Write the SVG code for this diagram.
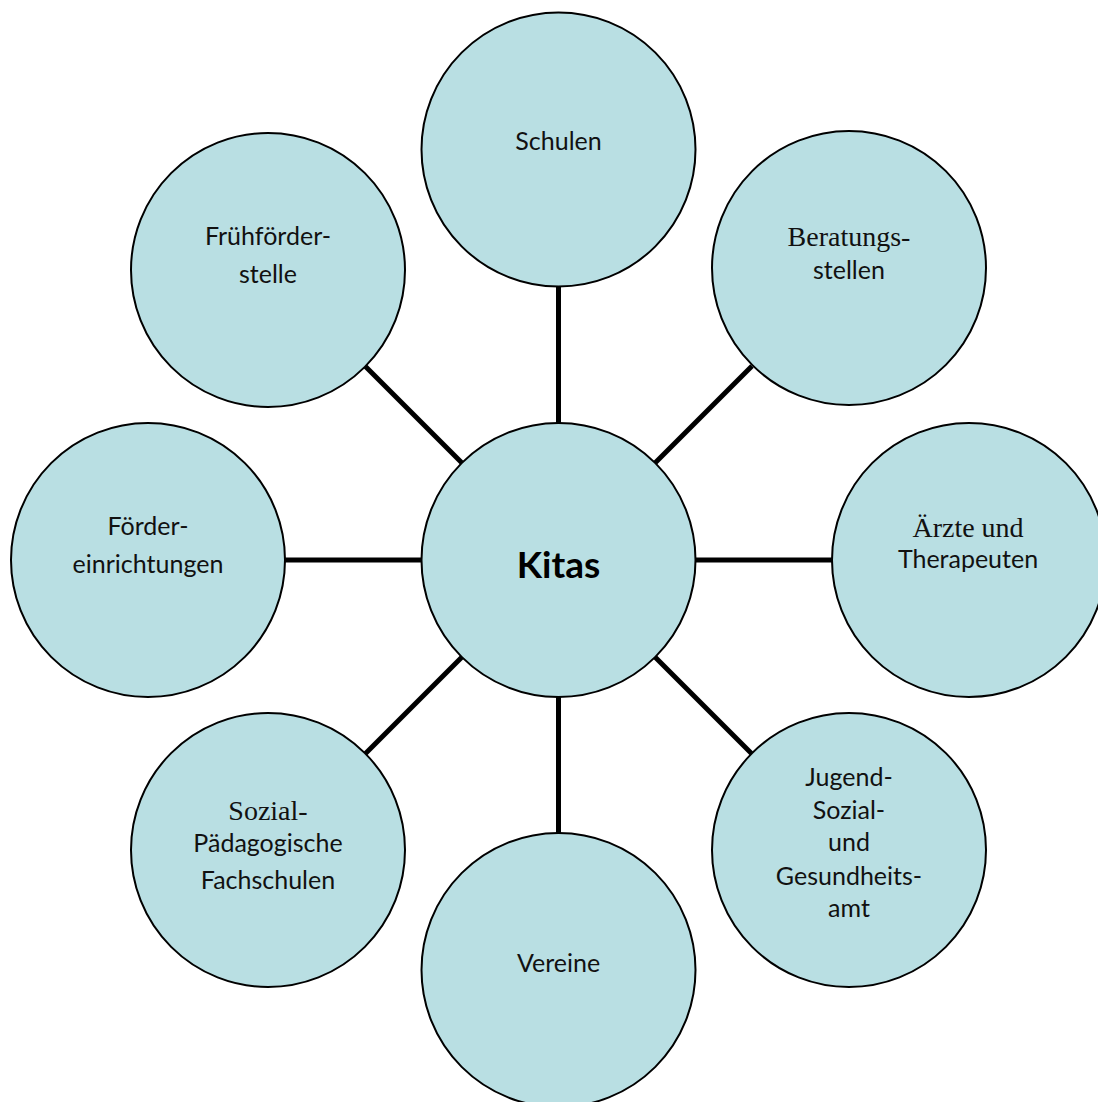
<svg xmlns="http://www.w3.org/2000/svg" width="1098" height="1102" viewBox="0 0 1098 1102">
<style>
.n{fill:#B9DFE3;stroke:#000;stroke-width:2}
.c{stroke:#000;stroke-width:5;fill:none}
.t{font-family:Lato,"Liberation Sans",sans-serif;font-size:25px;fill:#111;text-anchor:middle}
.s{font-family:"Liberation Serif",serif;font-size:28px;fill:#111;text-anchor:middle}
.b{font-family:Lato,"Liberation Sans",sans-serif;font-size:37px;font-weight:bold;fill:#000;text-anchor:middle}
</style>
<rect width="1098" height="1102" fill="#fff"/>
<g id="connectors">
<line class="c" x1="558.5" y1="286" x2="558.5" y2="424"/>
<line class="c" x1="558.5" y1="697" x2="558.5" y2="834"/>
<line class="c" x1="285" y1="560" x2="422" y2="560"/>
<line class="c" x1="695" y1="560" x2="833" y2="560"/>
<line class="c" x1="655" y1="463" x2="752" y2="366"/>
<line class="c" x1="462" y1="463" x2="365" y2="366"/>
<line class="c" x1="655" y1="657" x2="752" y2="754"/>
<line class="c" x1="462" y1="657" x2="365" y2="754"/>
</g>
<g id="kitas">
<circle class="n" cx="558.5" cy="560" r="137"/>
<text class="b" x="558.5" y="578">Kitas</text>
</g>
<g id="schulen">
<circle class="n" cx="558.5" cy="149.5" r="137"/>
<text class="t" x="558.5" y="150">Schulen</text>
</g>
<g id="beratungsstellen">
<circle class="n" cx="849" cy="268" r="137"/>
<text class="s" x="849" y="246">Beratungs-</text>
<text class="t" x="849" y="279">stellen</text>
</g>
<g id="aerzte">
<circle class="n" cx="969" cy="560" r="137"/>
<text class="s" x="968" y="537">Ärzte und</text>
<text class="t" x="968" y="568">Therapeuten</text>
</g>
<g id="jugendamt">
<circle class="n" cx="849" cy="850" r="137"/>
<text class="t" x="849" y="786">Jugend-</text>
<text class="t" x="849" y="819">Sozial-</text>
<text class="t" x="849" y="851">und</text>
<text class="t" x="849" y="885">Gesundheits-</text>
<text class="t" x="849" y="917">amt</text>
</g>
<g id="vereine">
<circle class="n" cx="558.5" cy="970" r="137"/>
<text class="t" x="558.5" y="972">Vereine</text>
</g>
<g id="fachschulen">
<circle class="n" cx="268" cy="850" r="137"/>
<text class="s" x="268" y="820">Sozial-</text>
<text class="t" x="268" y="852">Pädagogische</text>
<text class="t" x="268" y="889">Fachschulen</text>
</g>
<g id="foerdereinrichtungen">
<circle class="n" cx="148" cy="560" r="137"/>
<text class="t" x="148" y="535">Förder-</text>
<text class="t" x="148" y="573">einrichtungen</text>
</g>
<g id="fruehfoerderstelle">
<circle class="n" cx="268" cy="270" r="137"/>
<text class="t" x="268" y="245">Frühförder-</text>
<text class="t" x="268" y="283">stelle</text>
</g>
</svg>
